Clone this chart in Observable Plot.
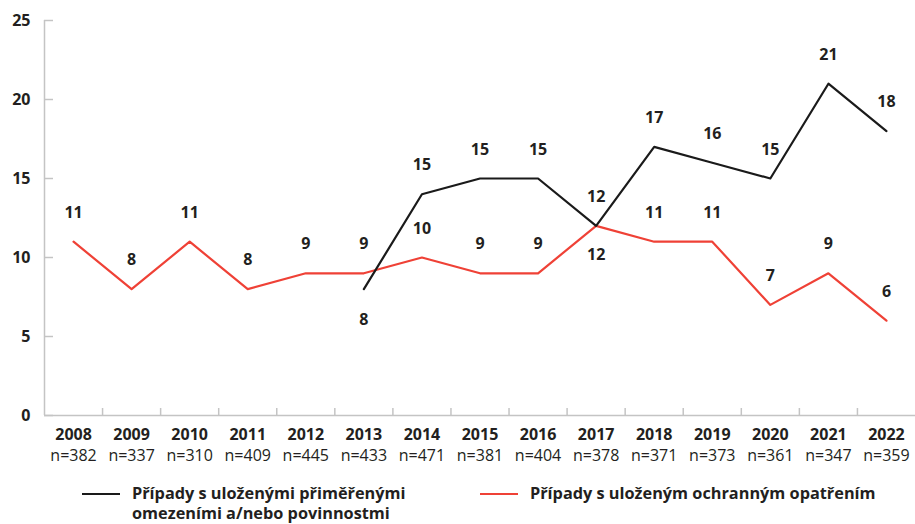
<!DOCTYPE html>
<html>
<head>
<meta charset="utf-8">
<script src="https://cdn.jsdelivr.net/npm/d3@7"></script>
<script src="https://cdn.jsdelivr.net/npm/@observablehq/plot@0.6"></script>
<style>
  body { margin: 0; background: #fff; font-family: "Open Sans", sans-serif; color: #231f20; }
  #chart { width: 915px; }
  .legend { position: relative; height: 54px; font-weight: 700; font-size: 16.3px; line-height: 20px; }
  .item { position: absolute; display: flex; align-items: flex-start; }
  .sw { width: 38px; height: 2px; margin-top: 10px; margin-right: 12px; }
</style>
</head>
<body>
<div id="chart"></div>
<script>
const years = [2008, 2009, 2010, 2011, 2012, 2013, 2014, 2015, 2016, 2017, 2018, 2019, 2020, 2021, 2022];
const nValues = [382, 337, 310, 409, 445, 433, 471, 381, 404, 378, 371, 373, 361, 347, 359];
const blackYears = [2013, 2014, 2015, 2016, 2017, 2018, 2019, 2020, 2021, 2022];
const blackValues = [8, 14, 15, 15, 12, 17, 16, 15, 21, 18];
const blackLabels = [8, 15, 15, 15, 12, 17, 16, 15, 21, 18];
const redValues = [11, 8, 11, 8, 9, 9, 10, 9, 9, 12, 11, 11, 7, 9, 6];
const yTicks = [0, 5, 10, 15, 20, 25];
const seriesNames = ["Případy s uloženými přiměřenými\nomezeními a/nebo povinnostmi", "Případy s uloženým ochranným opatřením"];

const BLACK = "#1a1a1a", RED = "#ef4136", GRAY = "#c4c4c4", TXT = "#231f20";

const black = blackYears.map((y, i) => ({year: y, value: blackValues[i], label: blackLabels[i]}));
const red = years.map((y, i) => ({year: y, value: redValues[i], label: redValues[i]}));
const nMap = new Map(years.map((y, i) => [y, nValues[i]]));
const bounds = years.slice(0, -1).map(y => y + 0.5);

const blackBelow = new Set([2013]);
const redBelow = new Set([2017]);

const plot = Plot.plot({
  width: 915,
  height: 470,
  marginLeft: 44,
  marginRight: 0,
  marginTop: 20,
  marginBottom: 55,
  style: {fontFamily: "Open Sans, sans-serif", color: TXT, background: "#fff"},
  x: {domain: [2007.5, 2022.5], axis: null},
  y: {domain: [0, 25], axis: null},
  marks: [
    Plot.axisY({ticks: yTicks, tickSize: -9, tickFormat: () => "", label: null, stroke: GRAY, strokeWidth: 1.5}),
    Plot.axisY({ticks: yTicks, tickSize: 0, tickPadding: 14, label: null, fontSize: 16, fontWeight: 700, fill: TXT}),
    Plot.axisX({ticks: bounds, tickSize: -7, tickFormat: () => "", label: null, stroke: GRAY, strokeWidth: 1.5}),
    Plot.axisX({ticks: years, tickSize: 0, tickPadding: 13, label: null, tickFormat: d => String(d), fontSize: 16, fontWeight: 700, fill: TXT}),
    Plot.axisX({ticks: years, tickSize: 0, tickPadding: 34, label: null, tickFormat: d => "n=" + nMap.get(d), fontSize: 16, fontWeight: 400, fill: TXT}),
    Plot.ruleY([0], {stroke: GRAY, strokeWidth: 1.5}),
    Plot.ruleX([2007.5], {y1: 0, y2: 25, stroke: GRAY, strokeWidth: 1.5}),
    Plot.line(red, {x: "year", y: "value", stroke: RED, strokeWidth: 2.2}),
    Plot.line(black, {x: "year", y: "value", stroke: BLACK, strokeWidth: 2.2}),
    Plot.text(red.filter(d => !redBelow.has(d.year)), {x: "year", y: "value", text: "label", dy: -29, fontSize: 16, fontWeight: 700, fill: TXT}),
    Plot.text(red.filter(d => redBelow.has(d.year)), {x: "year", y: "value", text: "label", dy: 29, fontSize: 16, fontWeight: 700, fill: TXT}),
    Plot.text(black.filter(d => !blackBelow.has(d.year)), {x: "year", y: "value", text: "label", dy: -29, fontSize: 16, fontWeight: 700, fill: TXT}),
    Plot.text(black.filter(d => blackBelow.has(d.year)), {x: "year", y: "value", text: "label", dy: 31, fontSize: 16, fontWeight: 700, fill: TXT})
  ]
});
document.getElementById("chart").appendChild(plot);

const legend = document.createElement("div");
legend.className = "legend";
const pos = [{left: 82, top: 13}, {left: 480, top: 13}];
[BLACK, RED].forEach((c, i) => {
  const it = document.createElement("div");
  it.className = "item";
  it.style.left = pos[i].left + "px";
  it.style.top = pos[i].top + "px";
  const sw = document.createElement("div");
  sw.className = "sw";
  sw.style.background = c;
  const tx = document.createElement("div");
  tx.innerHTML = seriesNames[i].split("\n").join("<br>");
  it.appendChild(sw); it.appendChild(tx);
  legend.appendChild(it);
});
document.getElementById("chart").appendChild(legend);
</script>
</body>
</html>
